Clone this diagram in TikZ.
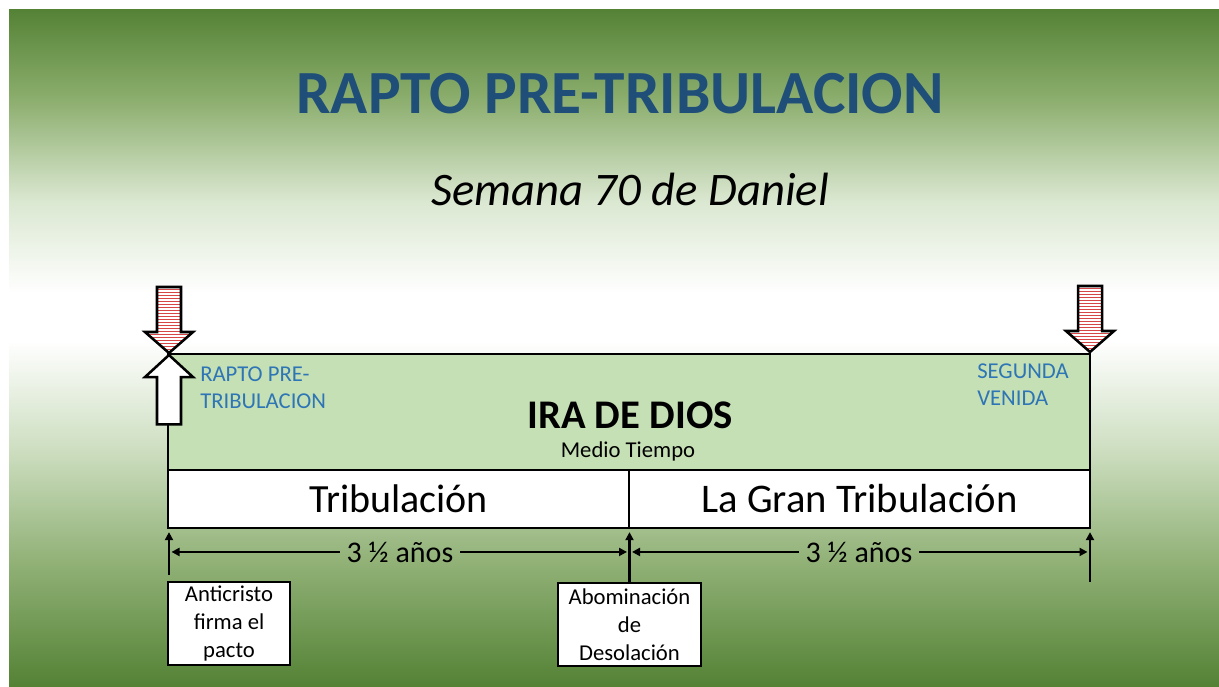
\documentclass[tikz,border=0pt]{standalone}
\usepackage{fontspec}
\setmainfont{Carlito}
\usetikzlibrary{arrows.meta}

\definecolor{slidegreen}{RGB}{84,130,53}
\definecolor{bgtop}{RGB}{140,174,110}
\definecolor{bgupper}{RGB}{218,231,208}
\definecolor{bglower}{RGB}{205,222,192}
\definecolor{bgbottom}{RGB}{146,178,120}
\definecolor{boxgreen}{RGB}{197,224,180}
\definecolor{titleblue}{RGB}{31,78,121}
\definecolor{noteblue}{RGB}{46,117,182}
\definecolor{stripered}{RGB}{214,70,70}

\pgfdeclareverticalshading{slidebg}{100bp}{color(0bp)=(slidegreen); color(25bp)=(slidegreen); color(34.3bp)=(bgbottom); color(42.4bp)=(bglower); color(50.5bp)=(white); color(54bp)=(white); color(60.9bp)=(bgupper); color(68.3bp)=(bgtop); color(75bp)=(slidegreen); color(100bp)=(slidegreen)}

\newcommand{\arrowshape}{(0,0) -- (-24,-21) -- (-12,-21) -- (-12,-66) -- (12,-66) -- (12,-21) -- (24,-21) -- cycle}

\tikzset{
	panel/.style={draw=black, line width=2.2pt, inner sep=0pt},
	event/.style={draw=black, line width=2pt, fill=white, align=center, font=\fontsize{17}{21}\selectfont, inner sep=0pt},
	note/.style={text=noteblue, align=left, font=\fontsize{17}{20}\selectfont, inner sep=0pt, anchor=north west},
	outline/.style={draw=black, line width=1.9pt, line join=miter},
	tickarrow/.style={line width=2.2pt, -{Triangle[length=6pt,width=6pt]}, shorten >=2pt},
	dimline/.style={line width=1.6pt, -{Triangle[length=6pt,width=6pt]}},
	years/.style={font=\fontsize{22.5}{27}\selectfont, inner xsep=5pt, anchor=base}
}

\begin{document}
\begin{tikzpicture}[x=0.75pt,y=0.75pt,yscale=-1,xscale=1]
	\useasboundingbox (0,0) rectangle (1219,686);
	\fill[white] (0,0) rectangle (1219,686);
	\shade[shading=slidebg] (9,9) rectangle (1219,686);

	\node[text=titleblue, font=\bfseries\fontsize{46}{55}\selectfont, anchor=base] (title) at (620,113) {RAPTO PRE-TRIBULACION};
	\node[font=\itshape\fontsize{35}{42}\selectfont, anchor=base] (subtitle) at (630,205) {Semana 70 de Daniel};

	\node[panel, fill=boxgreen, minimum width=691.5pt, minimum height=87pt] (ira) at (629,412) {};
	\node[panel, fill=white, minimum width=345.75pt, minimum height=43.5pt, font=\fontsize{30}{36}\selectfont] (trib) at (398.5,499) {Tribulación};
	\node[panel, fill=white, minimum width=345.75pt, minimum height=43.5pt, font=\fontsize{30.5}{36}\selectfont] (gran) at (859.5,499) {La Gran Tribulación};

	\node[font=\bfseries\fontsize{30.5}{36}\selectfont, anchor=base] (wrath) at (630,428) {IRA DE DIOS};
	\node[font=\fontsize{17}{20}\selectfont, anchor=base] (half) at (628,457) {Medio Tiempo};
	\node[note] (rapture) at (200,367) {RAPTO PRE-\\TRIBULACION};
	\node[note] (coming) at (977,364) {SEGUNDA\\VENIDA};

	\draw[outline, fill=white, shift={(169,355)}, yscale=-1.05] \arrowshape;
	\foreach \ax/\ay in {169/353, 1090/352} {
		\begin{scope}[shift={(\ax,\ay)}]
			\fill[white] \arrowshape;
			\begin{scope}
				\clip \arrowshape;
				\foreach \s in {-64,-61,...,-1}
					\draw[stripered, line width=0.6pt] (-26,\s) -- (26,\s);
			\end{scope}
			\draw[outline] \arrowshape;
		\end{scope}
	}

	\node[event, minimum width=91.5pt, minimum height=62.25pt] (pact) at (229,623.5) {Anticristo\\firma el\\pacto};
	\node[event, minimum width=107.25pt, minimum height=62.25pt] (abom) at (629.5,624.5) {Abominación\\de\\Desolación};
	\coordinate (startmark) at (169,575);
	\coordinate (endmark) at (1090,582);

	\draw[tickarrow] (startmark) -- (startmark |- trib.south);
	\draw[tickarrow] (abom.north) -- (abom.north |- trib.south);
	\draw[tickarrow] (endmark) -- (endmark |- gran.south);

	\node[years] (firsthalf) at (400,562) {3 ½ años};
	\node[years] (secondhalf) at (859,562) {3 ½ años};
	\coordinate (d0) at (171.5,552);
	\coordinate (d1) at (627,552);
	\coordinate (d2) at (632,552);
	\coordinate (d3) at (1087.5,552);
	\draw[dimline] (firsthalf.west) -- (d0 |- firsthalf.west);
	\draw[dimline] (firsthalf.east) -- (d1 |- firsthalf.east);
	\draw[dimline] (secondhalf.west) -- (d2 |- secondhalf.west);
	\draw[dimline] (secondhalf.east) -- (d3 |- secondhalf.east);
\end{tikzpicture}
\end{document}
